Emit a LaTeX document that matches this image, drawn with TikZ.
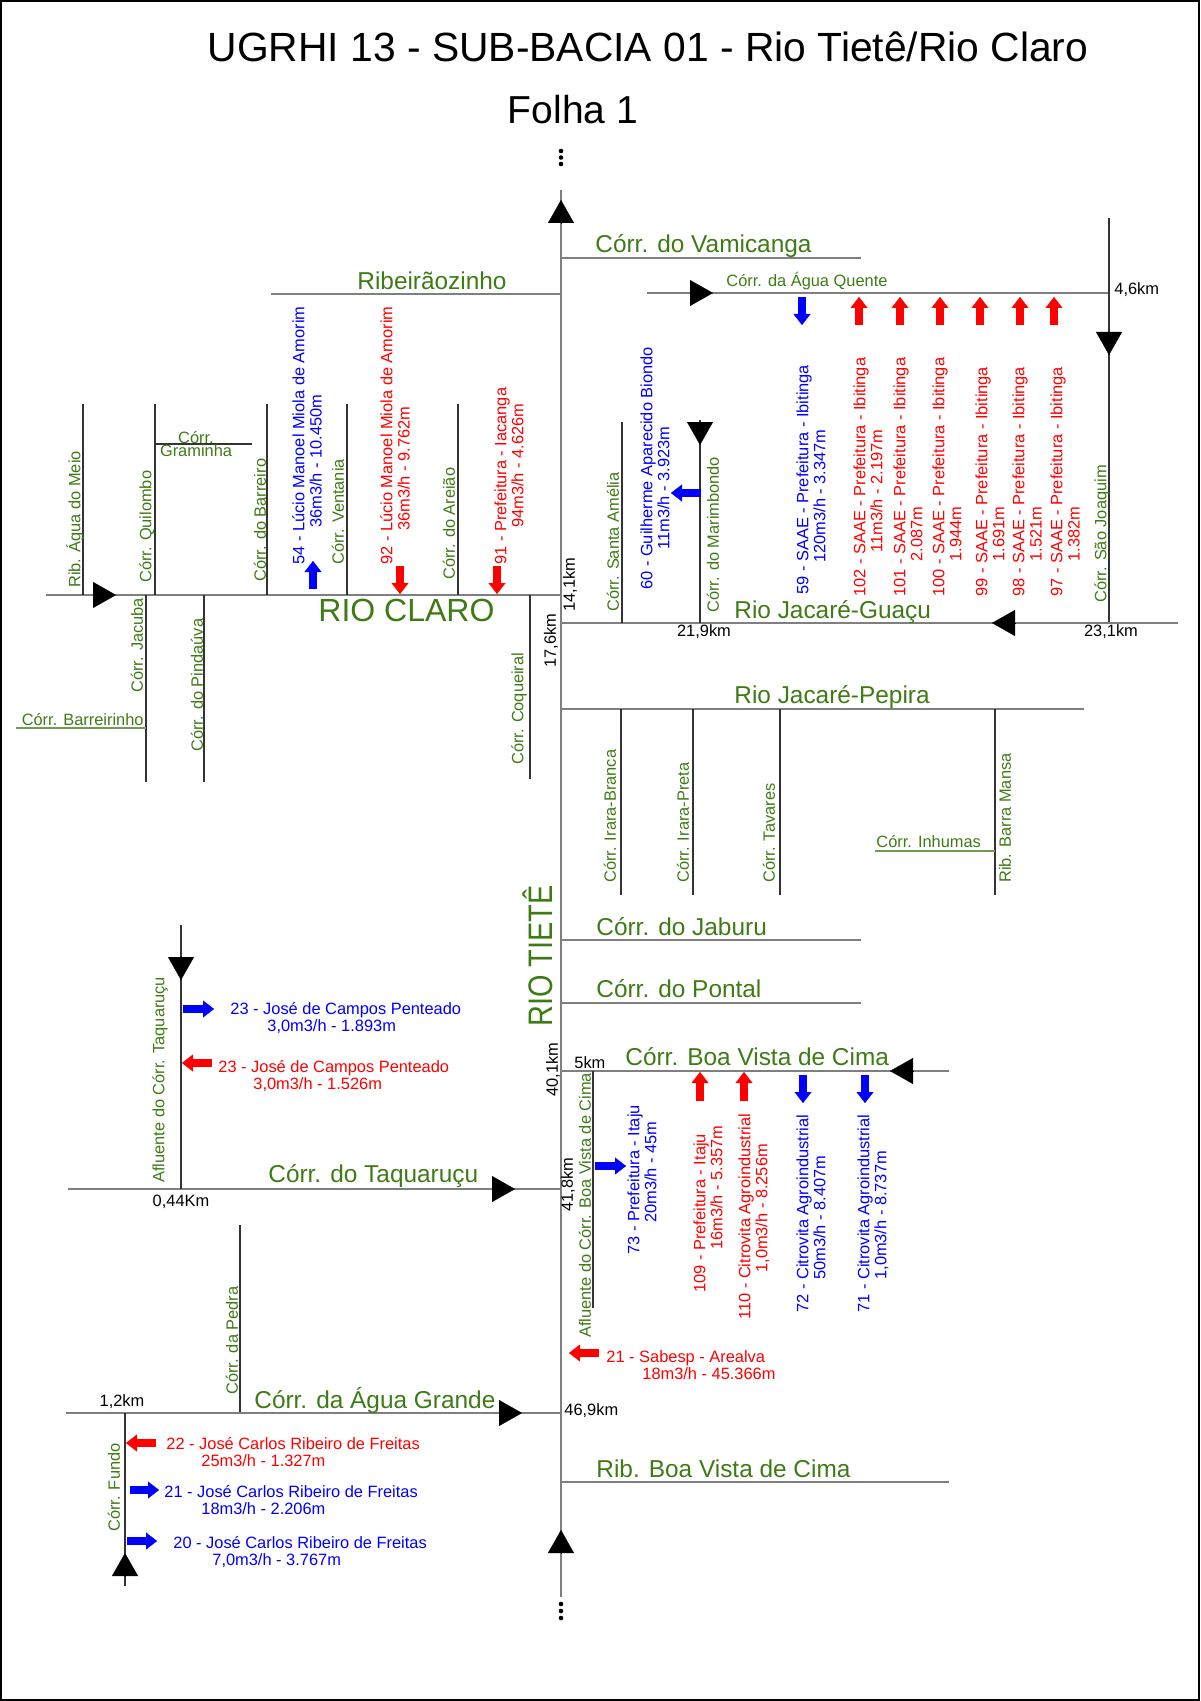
\documentclass[tikz,border=0pt]{standalone}
\usepackage{fontspec}
\setmainfont{Liberation Sans}
\usepackage{tikz}
\usetikzlibrary{positioning,arrows.meta,calc}
\definecolor{rgreen}{HTML}{3E7B15}
\definecolor{rline}{HTML}{7F7F7F}
\definecolor{ublue}{HTML}{0000FF}
\definecolor{ured}{HTML}{FF0000}

\begin{document}
\begin{tikzpicture}[
    x=0.5pt, y=-0.5pt,
    riverline/.style={draw=rline, line width=1pt},
    tribline/.style={draw=black!80, line width=0.6pt},
    greenline/.style={draw=rgreen!75, line width=0.8pt},
    flowtip/.style={draw=black, line width=0.5pt, -{Triangle[width=13pt,length=11.5pt,line width=0.1pt]}},
    usearrow/.style={line width=4.2pt, -{Triangle[width=8.5pt,length=5.5pt,line width=0.1pt]}},
    bigname/.style={text=rgreen, font=\fontsize{12.2}{14}\selectfont, inner sep=0pt, anchor=base west},
    tribname/.style={text=rgreen, font=\fontsize{8.2}{8.6}\selectfont, inner sep=0pt},
    vtribname/.style={tribname, rotate=90, anchor=west},
    kmtext/.style={font=\fontsize{8.2}{8.6}\selectfont, inner sep=0pt},
    vkmtext/.style={kmtext, rotate=90, anchor=west},
    uselabel/.style={font=\fontsize{8.2}{8.6}\selectfont, inner sep=0pt, align=left, anchor=north west},
    vuselabel/.style={uselabel, rotate=90}
  ]
    \useasboundingbox (0,0) rectangle (1200,1701);
    \draw[line width=1pt] (1,1) rectangle (1199,1700);

    % title
    \node[font=\fontsize{20.4}{24}\selectfont, anchor=base] (title) at (648,62) {UGRHI 13 - SUB-BACIA 01 - Rio Tietê/Rio Claro};
    \node[font=\fontsize{19.5}{24}\selectfont, anchor=base] (folha) at (573,124) {Folha 1};

    % Rio Tiete
    \coordinate (tTop) at (561,190);
    \coordinate (tBot) at (561,1597);
    \draw[riverline] (tTop) -- (tBot);
    \draw[flowtip] (561,224) -- (561,200);
    \draw[flowtip] (561,1553) -- (561,1530);
    \foreach \y in {151,157.5,164,1604,1611,1618}
      \fill (561,\y) circle (1.15pt);
    \node[text=rgreen, font=\fontsize{17}{17}\selectfont, rotate=90, anchor=base west, inner sep=0pt] (tiete) at (552,1027) {\scalebox{0.85}[1]{RIO TIETÊ}};

    % upper right
    \draw[riverline] (561,258) -- (861,258);
    \node[bigname] (vamicanga) at (595,253) {Córr. do Vamicanga};
    \draw[riverline] (271,294) -- (561,294);
    \node[bigname] (ribeiraozinho) at (357,290) {Ribeirãozinho};

    \draw[riverline] (647,293) -- (1109,293);
    \draw[flowtip] (690,293) -- (713,293);
    \node[tribname, anchor=base west] (aguaquente) at (726,287) {Córr. da Água Quente};
    \node[kmtext, anchor=west] (km46) at (1114,290) {4,6km};
    \draw[tribline] (1109,218) -- (1109,623);
    \draw[flowtip] (1109,332) -- (1109,355);
    \node[vtribname] (saojoaquim) at (1102,603) {Córr. São Joaquim};

    \draw[riverline] (561,623) -- (1178,623);
    \draw[flowtip] (1015,623) -- (992,623);
    \node[bigname] (jguacu) at (734,618) {Rio Jacaré-Guaçu};
    \node[kmtext] (km219) at (704,632) {21,9km};
    \node[kmtext] (km231) at (1111,632) {23,1km};

    \draw[tribline] (622,422) -- (622,623);
    \node[vtribname] (santaamelia) at (613,612) {Córr. Santa Amélia};
    \draw[tribline] (700,420) -- (700,623);
    \draw[flowtip] (700,422) -- (700,445);
    \node[vtribname] (marimbondo) at (713,613) {Córr. do Marimbondo};
    \draw[usearrow, ublue] (701,493) -- (671,493);
    \node[vuselabel, text=ublue] (w60) at (640,590) {60 - Guilherme Aparecido Biondo\\\hspace*{20pt}11m3/h - 3.923m};

    \draw[usearrow, ublue] (802,297) -- (802,325);
    \node[vuselabel, text=ublue] (w59) at (796,595) {59 - SAAE - Prefeitura - Ibitinga\\\hspace*{16pt}120m3/h - 3.347m};
    \foreach \x in {859,900,940,980,1020,1054}
      \draw[usearrow, ured] (\x,325) -- (\x,297);
    \node[vuselabel, text=ured] (w102) at (853,597) {102 - SAAE - Prefeitura - Ibitinga\\\hspace*{22pt}11m3/h - 2.197m};
    \foreach \cx/\id/\dist in {899/101/2.087, 938/100/1.944, 981/99/1.691, 1018/98/1.521, 1056/97/1.382}
      \node[vuselabel, text=ured] (w\id) at (\cx-6,597) {\id{} - SAAE - Prefeitura - Ibitinga\\\hspace*{17.5pt}\dist m};

    % Rio Claro
    \draw[riverline] (46,595) -- (561,595);
    \draw[flowtip] (93,595) -- (116,595);
    \node[text=rgreen, font=\fontsize{16}{18}\selectfont, inner sep=0pt, anchor=base west] (rioclaro) at (318,621) {RIO CLARO};
    \foreach \x in {83,155,267,347,458}
      \draw[tribline] (\x,404) -- (\x,595);
    \node[vtribname] (aguadomeio) at (75,588) {Rib. Água do Meio};
    \node[vtribname] (quilombo) at (147,583) {Córr. Quilombo};
    \draw[tribline] (155,444) -- (252,444);
    \node[tribname, align=center, font=\fontsize{8.2}{6.5}\selectfont] (graminha) at (196,444.5) {Córr.\\Graminha};
    \node[vtribname] (barreiro) at (260,582) {Córr. do Barreiro};
    \node[vtribname] (ventania) at (338,565) {Córr. Ventania};
    \node[vtribname] (areiao) at (449,580) {Córr. do Areião};

    \draw[usearrow, ublue] (313,589) -- (313,561);
    \node[vuselabel, text=ublue] (w54) at (292,565) {54 - Lúcio Manoel Miola de Amorim\\\hspace*{18.5pt}36m3/h - 10.450m};
    \draw[usearrow, ured] (400,566) -- (400,594);
    \node[vuselabel, text=ured] (w92) at (380,565) {92 - Lúcio Manoel Miola de Amorim\\\hspace*{17pt}36m3/h - 9.762m};
    \draw[usearrow, ured] (497,566) -- (497,594);
    \node[vuselabel, text=ured] (w91) at (494,565) {91 - Prefeitura - Iacanga\\\hspace*{18.5pt}94m3/h - 4.626m};

    \draw[tribline] (146,595) -- (146,782);
    \node[vtribname] (jacuba) at (137,693) {Córr. Jacuba};
    \draw[greenline] (16,728) -- (146,728);
    \node[tribname, anchor=base east] (barreirinho) at (144,725) {Córr. Barreirinho};
    \draw[tribline] (204,595) -- (204,782);
    \node[vtribname] (pindauva) at (197,752) {Córr. do Pindaúva};
    \draw[tribline] (530,595) -- (530,779);
    \node[vtribname] (coqueiral) at (519,765) {Córr. Coqueiral};
    \node[vkmtext] (km141) at (570,612) {14,1km};
    \node[vkmtext] (km176) at (551,668) {17,6km};

    % Rio Jacare-Pepira
    \draw[riverline] (561,709) -- (1084,709);
    \node[bigname] (jpepira) at (734,703) {Rio Jacaré-Pepira};
    \foreach \x in {621,693,780,995}
      \draw[tribline] (\x,709) -- (\x,895);
    \node[vtribname] (irarabranca) at (610,883) {Córr. Irara-Branca};
    \node[vtribname] (irarapreta) at (683,883) {Córr. Irara-Preta};
    \node[vtribname] (tavares) at (769,883) {Córr. Tavares};
    \node[vtribname] (barramansa) at (1005,883) {Rib. Barra Mansa};
    \draw[greenline] (875,851) -- (995,851);
    \node[tribname, anchor=base west] (inhumas) at (876,847) {Córr. Inhumas};

    \draw[riverline] (561,940) -- (861,940);
    \node[bigname] (jaburu) at (596,935) {Córr. do Jaburu};
    \draw[riverline] (561,1003) -- (861,1003);
    \node[bigname] (pontal) at (596,997) {Córr. do Pontal};

    % Corr. Boa Vista de Cima
    \draw[riverline] (561,1071) -- (949,1071);
    \draw[flowtip] (913,1071) -- (890,1071);
    \node[bigname] (boavista) at (625,1065) {Córr. Boa Vista de Cima};
    \node[kmtext, anchor=base west] (km5) at (574,1068) {5km};
    \node[vkmtext] (km401) at (553,1097) {40,1km};
    \node[vkmtext] (km418) at (568,1212) {41,8km};
    \draw[tribline] (593,1071) -- (593,1308);
    \node[vtribname] (afboavista) at (585,1338) {Afluente do Córr. Boa Vista de Cima};
    \draw[usearrow, ublue] (595,1166) -- (626,1166);
    \node[vuselabel, text=ublue] (w73) at (627,1255) {73 - Prefeitura - Itaju\\\hspace*{16pt}20m3/h - 45m};
    \draw[usearrow, ured] (700,1101) -- (700,1072);
    \node[vuselabel, text=ured] (w109) at (693,1293) {109 - Prefeitura - Itaju\\\hspace*{21.5pt}16m3/h - 5.357m};
    \draw[usearrow, ured] (744,1101) -- (744,1072);
    \node[vuselabel, text=ured] (w110) at (738,1320) {110 - Citrovita Agroindustrial\\\hspace*{23.5pt}1,0m3/h - 8.256m};
    \draw[usearrow, ublue] (803,1075) -- (803,1103);
    \node[vuselabel, text=ublue] (w72) at (796,1313) {72 - Citrovita Agroindustrial\\\hspace*{16.5pt}50m3/h - 8.407m};
    \draw[usearrow, ublue] (865,1075) -- (865,1103);
    \node[vuselabel, text=ublue] (w71) at (857,1313) {71 - Citrovita Agroindustrial\\\hspace*{16.5pt}1,0m3/h - 8.737m};
    \draw[usearrow, ured] (599,1353) -- (569,1353);
    \node[uselabel, text=ured] (w21s) at (606,1350) {21 - Sabesp - Arealva\\\hspace*{18pt}18m3/h - 45.366m};

    % Corr. do Taquarucu
    \draw[riverline] (68,1189) -- (561,1189);
    \draw[flowtip] (492,1189) -- (515,1189);
    \node[bigname] (taquarucu) at (268,1182) {Córr. do Taquaruçu};
    \node[kmtext] (km044) at (181,1202) {0,44Km};
    \draw[tribline] (181,925) -- (181,1189);
    \draw[flowtip] (181,957) -- (181,980);
    \node[vtribname] (aftaquarucu) at (160,1183) {Afluente do Córr. Taquaruçu};
    \draw[usearrow, ublue] (183,1009) -- (214,1009);
    \node[uselabel, text=ublue] (w23b) at (230,1002) {23 - José de Campos Penteado\\\hspace*{18.5pt}3,0m3/h - 1.893m};
    \draw[usearrow, ured] (212,1063) -- (182,1063);
    \node[uselabel, text=ured] (w23r) at (218,1060) {23 - José de Campos Penteado\\\hspace*{17.5pt}3,0m3/h - 1.526m};
    \draw[tribline] (240,1225) -- (240,1413);
    \node[vtribname] (pedra) at (232,1395) {Córr. da Pedra};

    % Corr. da Agua Grande
    \draw[riverline] (66,1413) -- (561,1413);
    \draw[flowtip] (499,1413) -- (522,1413);
    \node[bigname] (aguagrande) at (254,1408) {Córr. da Água Grande};
    \node[kmtext] (km12) at (122,1402) {1,2km};
    \node[kmtext, anchor=west] (km469) at (564,1411) {46,9km};
    \draw[tribline] (125,1413) -- (125,1586);
    \draw[flowtip] (125,1576) -- (125,1553);
    \node[vtribname] (fundo) at (114,1532) {Córr. Fundo};
    \draw[usearrow, ured] (156,1443) -- (126,1443);
    \node[uselabel, text=ured] (w22) at (166,1437) {22 - José Carlos Ribeiro de Freitas\\\hspace*{17.5pt}25m3/h - 1.327m};
    \draw[usearrow, ublue] (130,1490) -- (159,1490);
    \node[uselabel, text=ublue] (w21) at (164,1485) {21 - José Carlos Ribeiro de Freitas\\\hspace*{18.5pt}18m3/h - 2.206m};
    \draw[usearrow, ublue] (127,1541) -- (157,1541);
    \node[uselabel, text=ublue] (w20) at (173,1536) {20 - José Carlos Ribeiro de Freitas\\\hspace*{19.5pt}7,0m3/h - 3.767m};

    \draw[riverline] (561,1482) -- (949,1482);
    \node[bigname] (ribboavista) at (596,1477) {Rib. Boa Vista de Cima};
  \end{tikzpicture}
\end{document}
